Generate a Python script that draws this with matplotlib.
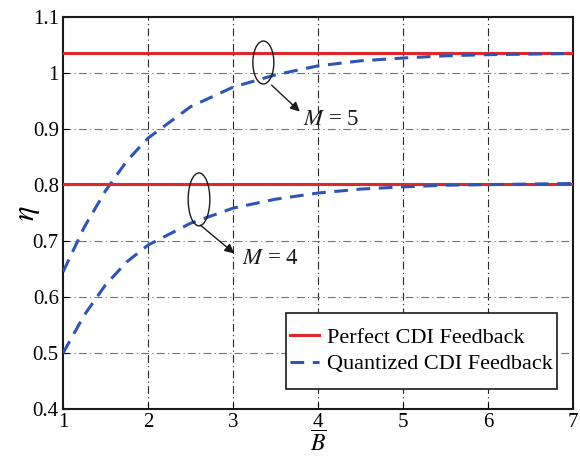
import numpy as np
import matplotlib
matplotlib.use("Agg")
import matplotlib.pyplot as plt
from matplotlib.patches import Ellipse, Rectangle

# data
B = [1.0, 1.25, 1.5, 1.75, 2.0, 2.5, 3.0, 3.5, 4.0, 4.5, 5.0, 5.5, 6.0, 6.5, 7.0]
eta_q_m5 = [0.645, 0.725, 0.790, 0.843, 0.884, 0.940, 0.975, 0.997, 1.013,
            1.022, 1.027, 1.031, 1.033, 1.034, 1.035]
eta_q_m4 = [0.500, 0.568, 0.622, 0.663, 0.693, 0.732, 0.759, 0.775, 0.786,
            0.793, 0.797, 0.800, 0.801, 0.802, 0.803]
eta_p_m5 = 1.036
eta_p_m4 = 0.803

xticks = [1, 2, 3, 4, 5, 6, 7]
yticks = [0.4, 0.5, 0.6, 0.7, 0.8, 0.9, 1.0, 1.1]
yticklabels = ["0.4", "0.5", "0.6", "0.7", "0.8", "0.9", "1", "1.1"]

plt.rcParams["font.family"] = ["Liberation Serif", "DejaVu Serif"]
plt.rcParams["mathtext.fontset"] = "stix"

red = "#e0282c"
blue = "#2f55b4"

fig = plt.figure(figsize=(5.8, 4.57), dpi=100)
ax = fig.add_axes([0.1086, 0.1045, 0.8794, 0.858])

ax.plot([B[0], B[-1]], [eta_p_m5, eta_p_m5], color=red, lw=2.2, zorder=3,
        label="Perfect CDI Feedback")
ax.plot(B, eta_q_m5, color=blue, lw=2.2, dashes=(4.5, 2.8), zorder=3,
        label="Quantized CDI Feedback")
ax.plot([B[0], B[-1]], [eta_p_m4, eta_p_m4], color=red, lw=2.2, zorder=3)
ax.plot(B, eta_q_m4, color=blue, lw=2.2, dashes=(4.5, 2.8), zorder=3)

ax.set_xlim(1, 7)
ax.set_ylim(0.4, 1.1)
ax.set_xticks(xticks)
ax.set_yticks(yticks)
ax.set_yticklabels(yticklabels)
ax.tick_params(direction="in", length=4, width=0.8, labelsize=15, pad=3)

for x in xticks[1:-1]:
    ax.axvline(x, color="0.15", lw=0.8, dashes=(7, 3, 1, 3), zorder=1)
for y in yticks[1:-1]:
    ax.axhline(y, color="0.45", lw=0.8, dashes=(7, 3, 1, 3), zorder=1)

for s in ax.spines.values():
    s.set_linewidth(1.5)
    s.set_color("0.1")

ax.set_xlabel(r"$\overline{B}$", fontsize=17)
ax.xaxis.set_label_coords(0.5, -0.056)
ax.set_ylabel(r"$\eta$", fontsize=22, labelpad=-7)

# annotations
ax.add_patch(Ellipse((3.357, 1.019), 0.247, 0.0767, fill=False, ec="0.1", lw=1.0, zorder=4))
ax.annotate("", xy=(3.81, 0.928), xytext=(3.43, 0.982),
            arrowprops=dict(arrowstyle="-|>", color="0.1", lw=1.0, mutation_scale=14))
ax.text(3.82, 0.918, r"$M$ = 5", fontsize=16.5, va="center", ha="left", color="0.1")

ax.add_patch(Ellipse((2.60, 0.7746), 0.255, 0.0945, fill=False, ec="0.1", lw=1.0, zorder=4))
ax.annotate("", xy=(3.04, 0.675), xytext=(2.59, 0.732),
            arrowprops=dict(arrowstyle="-|>", color="0.1", lw=1.0, mutation_scale=14))
ax.text(3.10, 0.669, r"$M$ = 4", fontsize=16.5, va="center", ha="left", color="0.1")

# legend box drawn separately so the padding matches
ax.add_patch(Rectangle((0.437, 0.052), 0.532, 0.193, transform=ax.transAxes,
                       fc="white", ec="0.1", lw=1.2, zorder=5))
leg = ax.legend(loc="center", bbox_to_anchor=(0.437, 0.052, 0.532, 0.193),
                fontsize=16, frameon=False, handlelength=1.3,
                handletextpad=0.35, borderpad=0.0, labelspacing=0.25,
                borderaxespad=0)
leg.set_zorder(6)

fig.savefig("out.png", dpi=100)
